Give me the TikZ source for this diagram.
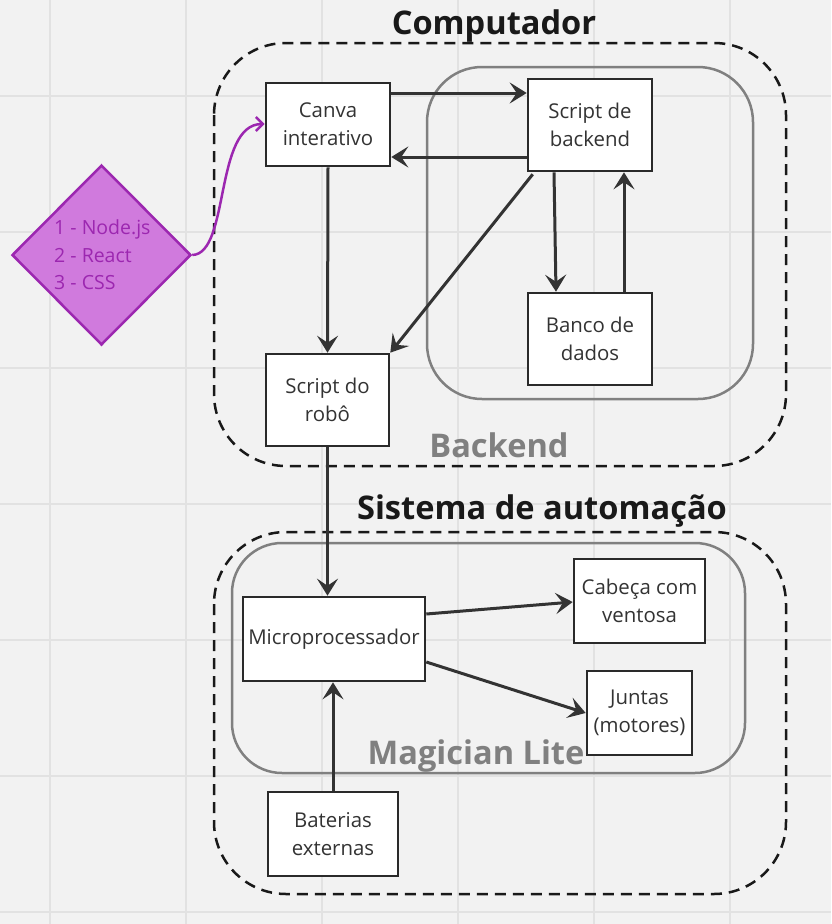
\documentclass[tikz,border=0pt]{standalone}
\usepackage{fontspec}
\setmainfont{Open Sans}
\usetikzlibrary{arrows.meta,shapes.geometric}
\definecolor{bg}{HTML}{F2F2F2}
\definecolor{gridc}{HTML}{E2E2E2}
\definecolor{ink}{HTML}{333333}
\definecolor{boxline}{HTML}{2A2A2A}
\definecolor{grayc}{HTML}{808080}
\definecolor{purp}{HTML}{9C27B0}
\definecolor{purpfill}{HTML}{D07ADD}
\tikzset{
  box/.style={draw=boxline, line width=2.6pt, fill=white, rectangle, inner sep=0pt,
    align=center, text=ink, font=\fontsize{20.4}{28}\selectfont},
  arr/.style={draw=ink, line width=3pt, -{Stealth[length=17pt,width=21pt,inset=7pt]}},
  dashbox/.style={draw=black!90, line width=2.5pt, dash pattern=on 11pt off 7pt},
  graybox/.style={draw=grayc, line width=2.5pt},
  title/.style={font=\bfseries\fontsize{32.6}{36}\selectfont, text=black!90, anchor=base, inner sep=0pt},
  graytitle/.style={font=\bfseries\fontsize{32.6}{36}\selectfont, text=grayc, anchor=base, inner sep=0pt},
}
\begin{document}
\begin{tikzpicture}[x=1pt,y=-1pt]
\fill[bg] (0,0) rectangle (831,924);
\useasboundingbox (0,0) rectangle (831,924);
\foreach \gx in {50,186,322,458,594,730}
  \draw[gridc, line width=2pt] (\gx,0) -- (\gx,924);
\foreach \gy in {96,232,368,504,640,776,912}
  \draw[gridc, line width=2pt] (0,\gy) -- (831,\gy);

% containers
\draw[dashbox, rounded corners=72pt] (214,43) rectangle (786,466);
\draw[graybox, rounded corners=55pt] (427,67) rectangle (753,399);
\draw[dashbox, rounded corners=72pt] (214,532) rectangle (786,894);
\draw[graybox, rounded corners=50pt] (232,543) rectangle (745,773);

% titles
\node[title] (tcomp) at (494,34) {Computador};
\node[graytitle] (tback) at (499,457) {Backend};
\node[title] (tsis) at (542,519) {Sistema de automação};
\node[graytitle] (tmag) at (476,764) {Magician Lite};

% boxes
\node[box, minimum width=124pt, minimum height=83pt] (canva) at (328,124.5) {Canva\\interativo};
\node[box, minimum width=124pt, minimum height=92pt] (sback) at (590,125) {Script de\\backend};
\node[box, minimum width=124pt, minimum height=92pt] (banco) at (590,339) {Banco de\\dados};
\node[box, minimum width=123pt, minimum height=92pt] (srobo) at (327.5,400) {Script do\\robô};
\node[box, minimum width=182pt, minimum height=84pt] (micro) at (334,639) {Microprocessador};
\node[box, minimum width=131pt, minimum height=84pt] (cabeca) at (639.5,601) {Cabeça com\\ventosa};
\node[box, minimum width=105pt, minimum height=84pt] (juntas) at (639.5,713) {Juntas\\(motores)};
\node[box, minimum width=130pt, minimum height=84pt] (bater) at (333,834) {Baterias\\externas};

% diamond
\node[diamond, draw=purp, line width=2.5pt, fill=purpfill, minimum width=179pt, minimum height=180pt, inner sep=0pt] (tech) at (101.5,255) {};
\node[anchor=west, text=purp, align=left, font=\fontsize{19.5}{27.5}\selectfont, inner sep=0pt] (techtxt) at (54,255) {1 - Node.js\\2 - React\\3 - CSS};

% connectors
\draw[arr] (canva.east |- 0,93) -- (sback.west |- 0,93);
\draw[arr] (sback.west |- 0,157) -- (canva.east |- 0,157);
\draw[arr] (canva.south) -- (srobo.north);
\draw[arr] (sback.south west) ++(6,2) coordinate (dstart) (dstart) -- (srobo.north east);
\draw[arr] (sback.south -| 554,0) -- (banco.north -| 556,0);
\draw[arr] (banco.north -| 624,0) -- (sback.south -| 624,0);
\draw[arr] (srobo.south) -- (micro.north -| srobo.south);
\draw[arr] (micro.east |- 0,614) -- (cabeca.west |- 0,602);
\draw[arr] (micro.east |- 0,662) -- (juntas.west |- 0,713);
\draw[arr] (bater.north) -- (micro.south -| bater.north);
\draw[purp, line width=2.5pt, -{Straight Barb[length=7pt,width=14pt]}]
  (tech.east) .. controls (230,254) and (214,124) .. (canva.west |- 0,124);
\end{tikzpicture}
\end{document}
